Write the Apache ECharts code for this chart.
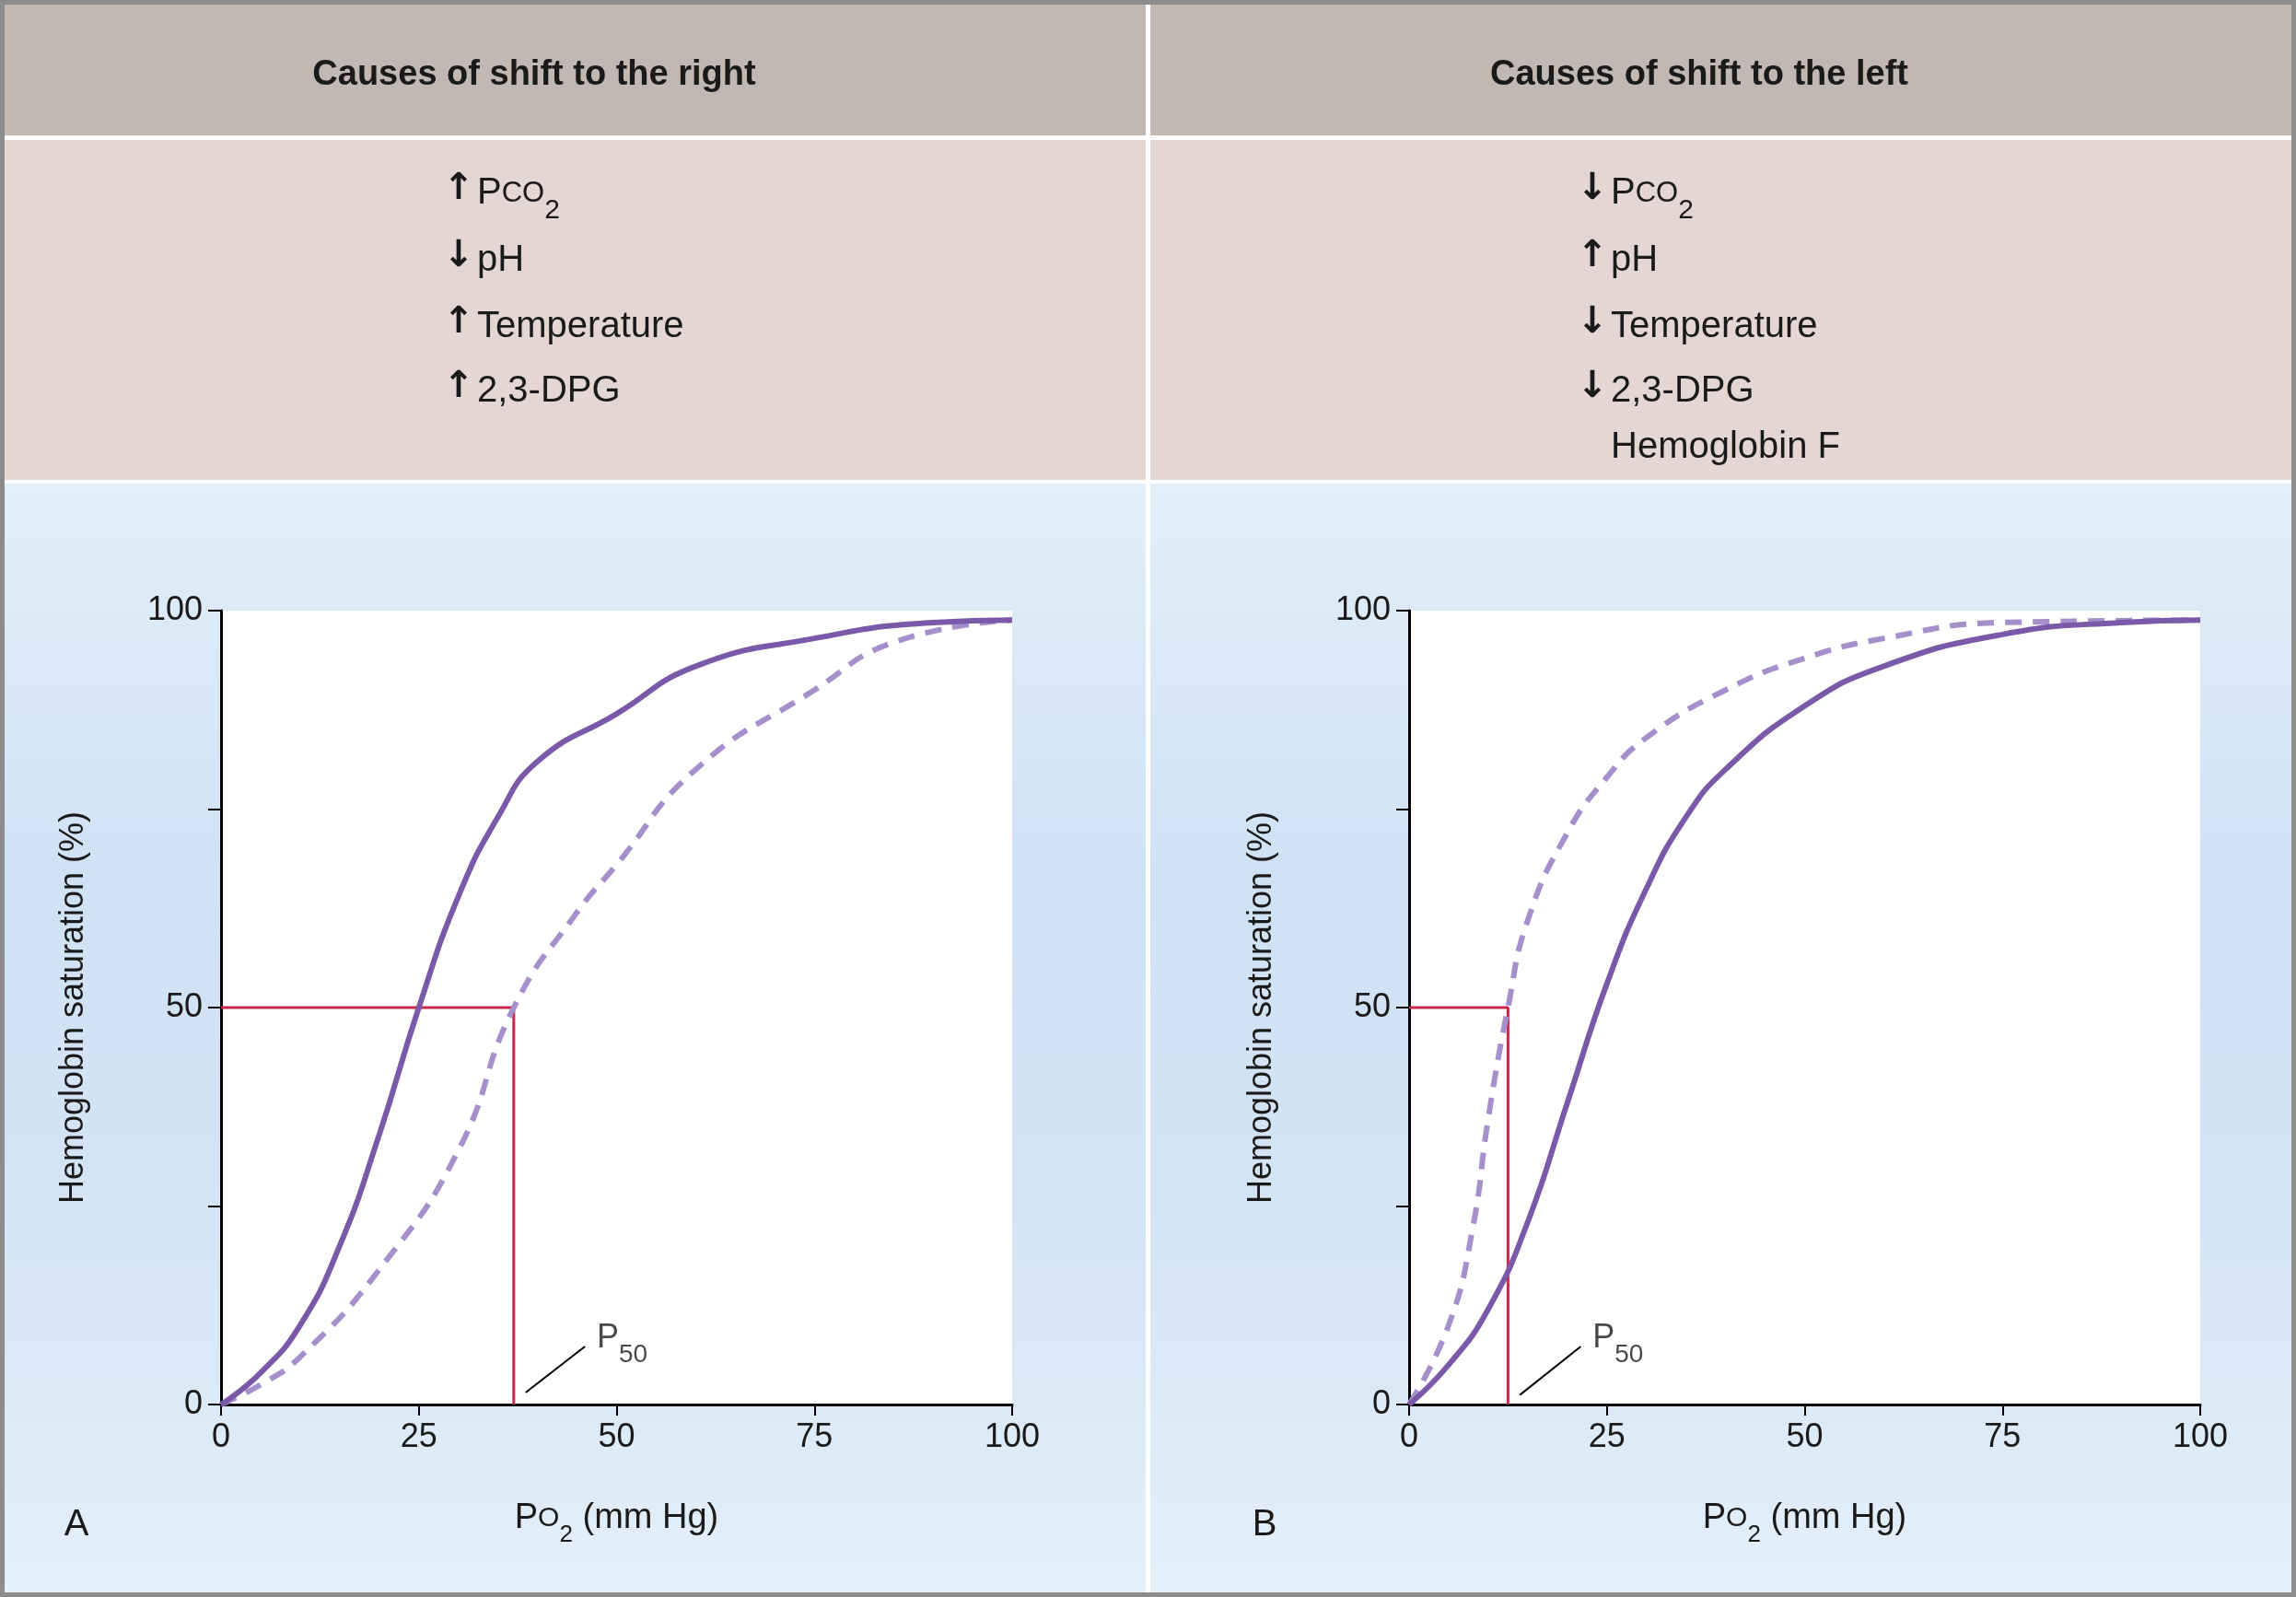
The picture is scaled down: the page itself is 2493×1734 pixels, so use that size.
<!DOCTYPE html>
<html><head><meta charset="utf-8">
<script src="https://cdn.jsdelivr.net/npm/echarts@6/dist/echarts.min.js"></script>
<style>html,body{margin:0;padding:0;background:#fff}#c{width:2493px;height:1734px}</style>
</head><body><div id="c"></div>
<script>
const xTicks=[0,25,50,75,100];
const yTickLabels={0:'0',50:'50',100:'100'};
const leftSolid=[[0,0],[5,4],[10,10],[15,20],[20,34],[25,50],[30,64],[35,74],[40,81],[50,87],[60,93],[75,96.5],[90,98.5],[100,98.8]];
const leftDashed=[[0,0],[5,2.5],[10,6],[20,17],[30,32],[37,50],[45,62],[50,68],[60,80],[75,90],[85,96],[100,98.8]];
const rightSolid=[[0,0],[5,5],[10,12],[15,23],[20,38],[25,53],[30,65],[35,74],[40,80],[50,88],[60,93],[75,97],[90,98.5],[100,98.8]];
const rightDashed=[[0,0],[5,10],[8,22],[10,36],[12.5,50],[15,61],[20,72],[25,79],[30,84],[40,90],[50,94],[60,96.5],[75,98.5],[100,98.8]];
const leftP50=37, rightP50=12.5;
const leftCauses=[['↑','P','CO','2'],['↓','pH'],['↑','Temperature'],['↑','2,3-DPG']];
const rightCauses=[['↓','P','CO','2'],['↑','pH'],['↓','Temperature'],['↓','2,3-DPG'],['','Hemoglobin F']];

const chart=echarts.init(document.getElementById('c'));
const F='Liberation Sans, Arial, sans-serif';
const graphics=[];
graphics.push({type:'rect',shape:{x:0,y:0,width:2493,height:1734},style:{fill:'#8c8c8c'},z:-10});
graphics.push({type:'rect',shape:{x:5,y:5,width:2483,height:1724},style:{fill:'#ffffff'},z:-9});
[[5,1239],[1249,1239]].forEach(([x,w])=>{
  graphics.push({type:'rect',shape:{x:x,y:5,width:w,height:142},style:{fill:'#c1b8b3'},z:-8});
  graphics.push({type:'rect',shape:{x:x,y:152,width:w,height:369},style:{fill:'#e4d6d2'},z:-8});
  graphics.push({type:'rect',shape:{x:x,y:525,width:w,height:1204},style:{fill:{type:'linear',x:0,y:0,x2:0,y2:1,colorStops:[{offset:0,color:'#e3eff9'},{offset:0.35,color:'#cfe2f4'},{offset:0.65,color:'#d3e4f4'},{offset:1,color:'#e4f0fa'}]}},z:-8});
});
graphics.push({type:'text',x:580,y:82,style:{text:'Causes of shift to the right',font:'bold 38px '+F,fill:'#1a1a1a',textAlign:'center',textVerticalAlign:'middle'}});
graphics.push({type:'text',x:1845,y:82,style:{text:'Causes of shift to the left',font:'bold 38px '+F,fill:'#1a1a1a',textAlign:'center',textVerticalAlign:'middle'}});
const rows=[210,283,355,425,486];
function causes(list,ax){
  list.forEach((c,i)=>{
    if(c[0]) graphics.push({type:'text',x:ax,y:rows[i]-4,style:{text:c[0],font:'bold 40px DejaVu Sans',fill:'#1a1a1a',textAlign:'center',textVerticalAlign:'middle'}});
    let txt, rich={a:{font:'40px '+F,fill:'#1a1a1a'},b:{font:'31px '+F,fill:'#1a1a1a'},s:{font:'30px '+F,fill:'#1a1a1a',verticalAlign:'bottom',padding:[0,0,-14,0]}};
    if(c.length===4) txt='{a|'+c[1]+'}{b|'+c[2]+'}{s|'+c[3]+'}'; else txt='{a|'+c[1]+'}';
    graphics.push({type:'text',x:ax+20,y:rows[i],style:{text:txt,rich:rich,fill:'#1a1a1a',textVerticalAlign:'middle'}});
  });
}
causes(leftCauses,498); causes(rightCauses,1729);
graphics.push({type:'text',x:83,y:1656,style:{text:'A',font:'40px '+F,fill:'#1a1a1a',textAlign:'center',textVerticalAlign:'middle'}});
graphics.push({type:'text',x:1373,y:1656,style:{text:'B',font:'40px '+F,fill:'#1a1a1a',textAlign:'center',textVerticalAlign:'middle'}});

const grids=[{left:240,top:663,width:859,height:862},{left:1530,top:663,width:859,height:862}];
function xAx(i){return {gridIndex:i,type:'value',min:0,max:100,interval:25,
  axisLine:{lineStyle:{color:'#000',width:3}},axisTick:{length:12,lineStyle:{color:'#000',width:2}},splitLine:{show:false},
  axisLabel:{fontSize:36,fontFamily:F,color:'#1a1a1a',margin:18},
  name:'{a|P}{s|O}{t|2}{a| (mm Hg)}',nameLocation:'middle',nameGap:105,
  nameTextStyle:{rich:{a:{fontSize:38,fontFamily:F,color:'#1a1a1a'},s:{fontSize:30,fontFamily:F,color:'#1a1a1a'},t:{fontSize:26,fontFamily:F,color:'#1a1a1a',verticalAlign:'bottom',padding:[0,0,-12,0]}}}};}
function yAx(i){return {gridIndex:i,type:'value',min:0,max:100,interval:25,
  axisLine:{show:true,lineStyle:{color:'#000',width:3}},axisTick:{show:true,length:14,lineStyle:{color:'#000',width:2}},splitLine:{show:false},
  axisLabel:{fontSize:36,fontFamily:F,color:'#1a1a1a',margin:20,formatter:v=>yTickLabels[v]||''},
  name:'Hemoglobin saturation (%)',nameLocation:'middle',nameGap:142,nameRotate:90,nameTextStyle:{fontSize:36,fontFamily:F,color:'#1a1a1a'}};}
const red='#c8284a', solid='#7a5aa8', dashed='#a690cc';
function ser(i,s,d,p50,lead){
  const lab=[lead[1][0]+1.5,lead[1][1]+1];
  return [
    {type:'line',xAxisIndex:i,yAxisIndex:i,data:[[0,50],[p50,50],[p50,0]],symbol:'none',lineStyle:{color:red,width:3},z:1},
    {type:'line',xAxisIndex:i,yAxisIndex:i,data:s,smooth:0.5,symbol:'none',lineStyle:{color:solid,width:6},z:3},
    {type:'line',xAxisIndex:i,yAxisIndex:i,data:d,smooth:0.5,symbol:'none',lineStyle:{color:dashed,width:6,type:[18,12]},z:2},
    {type:'line',xAxisIndex:i,yAxisIndex:i,data:lead,symbol:'none',lineStyle:{color:'#000',width:2},z:2},
    {type:'scatter',xAxisIndex:i,yAxisIndex:i,data:[lab],symbolSize:0,silent:true,
      label:{show:true,position:'right',distance:0,formatter:'{a|P}{s|50}',rich:{a:{fontSize:36,fontFamily:F,color:'#1a1a1a'},s:{fontSize:28,fontFamily:F,color:'#1a1a1a',verticalAlign:'bottom',padding:[0,0,-14,0]}}}}
  ];
}
chart.setOption({
  animation:false,
  graphic:graphics,
  grid:grids.map(g=>Object.assign({show:true,backgroundColor:'#fff',borderWidth:0},g)),
  xAxis:[xAx(0),xAx(1)],yAxis:[yAx(0),yAx(1)],
  series:[...ser(0,leftSolid,leftDashed,leftP50,[[38.5,1.5],[46,7.3]]),...ser(1,rightSolid,rightDashed,rightP50,[[14,1.2],[21.7,7.3]])]
});
</script></body></html>
